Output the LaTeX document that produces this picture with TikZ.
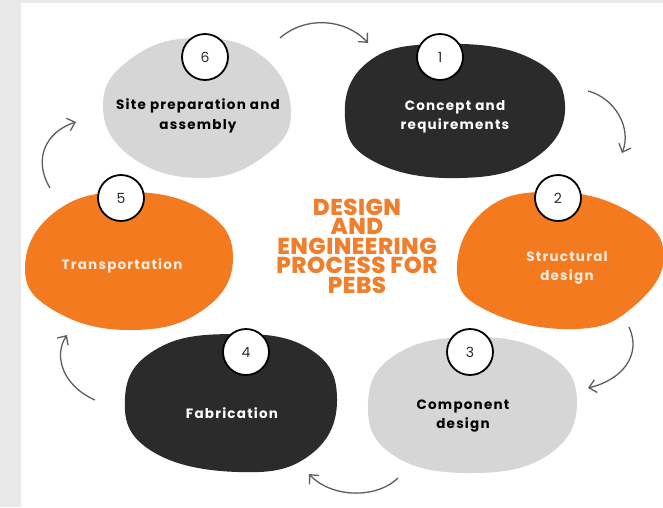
\documentclass[tikz,border=0pt]{standalone}
\usepackage{fontspec}
\setmainfont{Poppins}
\newfontfamily\labelfont{Poppins}[UprightFont={* Bold}, LetterSpace=9]
\newfontfamily\titlefont{Poppins}[UprightFont={* ExtraBold}, LetterSpace=2]
\usetikzlibrary{arrows.meta}
\definecolor{framegray}{HTML}{E9E9E9}
\definecolor{lightblob}{HTML}{D6D6D6}
\definecolor{darkblob}{HTML}{2B2B2B}
\definecolor{orangeblob}{HTML}{F47A20}
\definecolor{titleorange}{HTML}{EF7F2C}
\definecolor{cream}{HTML}{FBEBDC}
\definecolor{arrowgray}{HTML}{5E5E5E}
\tikzset{
  blob/.style={smooth cycle, tension=0.75},
  blobtext/.style={align=center, font=\fontsize{13.5}{19.5}\labelfont, inner sep=0pt},
  titleline/.style={text=titleorange, inner sep=0pt, anchor=base, font=\fontsize{23}{23}\titlefont},
  numcirc/.style={circle, draw=black, line width=1.8pt, fill=white, minimum size=46pt, inner sep=0pt, text=darkblob, font=\fontsize{14}{14}\selectfont},
  cyc/.style={draw=arrowgray, line width=1.3pt, -{Straight Barb[length=7pt,width=13pt]}},
}
\begin{document}
\begin{tikzpicture}[x=1pt,y=-1pt]
\useasboundingbox (0,0) rectangle (663,507);
\fill[framegray] (0,0) rectangle (663,507);
\fill[white] (21,3) rectangle (663,507);

% blobs
\fill[lightblob] plot[blob] coordinates {(291,112) (263,157) (200,178) (130,156) (103,104) (132,58) (195,38) (262,56)};
\fill[darkblob] plot[blob] coordinates {(565,105) (535,158) (460,178) (375,162) (345,118) (368,62) (440,44) (530,58)};
\fill[orangeblob] plot[blob] coordinates {(664,255) (633,307) (575,329) (490,312) (457,272) (485,210) (555,192) (630,212)};
\fill[lightblob] plot[blob] coordinates {(577,402) (548,455) (470,473) (393,455) (368,405) (395,355) (472,337) (548,354)};
\fill[darkblob] plot[blob] coordinates {(337,398) (310,455) (238,472) (150,450) (125,398) (155,350) (230,334) (308,348)};
\fill[orangeblob] plot[blob] coordinates {(233,258) (203,310) (131,330) (55,311) (25,268) (55,212) (125,192) (203,210)};

% labels
\node[blobtext, text=black] (t6) at (198,116) {Site preparation and\\assembly};
\node[blobtext, text=white] (t1) at (455,117) {Concept and\\requirements};
\node[blobtext, text=cream] (t2) at (567,268) {Structural\\design};
\node[blobtext, text=black] (t3) at (463,416) {Component\\design};
\node[blobtext, text=white] (t4) at (232,413) {Fabrication};
\node[blobtext, text=cream] (t5) at (122,266) {Transportation};

% title
\node[titleline] (title1) at (357,215) {DESIGN};
\node[titleline] (title2) at (357,234.5) {AND};
\node[titleline] (title3) at (357,254) {ENGINEERING};
\node[titleline] (title4) at (357,273.5) {PROCESS FOR};
\node[titleline] (title5) at (357,293) {PEBS};

% number circles
\node[numcirc] (n6) at (205,57) {6};
\node[numcirc] (n1) at (440,57) {1};
\node[numcirc] (n2) at (558,198) {2};
\node[numcirc] (n3) at (470,352) {3};
\node[numcirc] (n4) at (246,352) {4};
\node[numcirc] (n5) at (121,198) {5};

% cycle arrows
\coordinate (a1s) at (280,38);  \coordinate (a1e) at (368,43);
\coordinate (a2s) at (588,91);  \coordinate (a2e) at (622,153);
\coordinate (a3s) at (629,327); \coordinate (a3e) at (588,388);
\coordinate (a4s) at (398,478); \coordinate (a4e) at (309,474);
\coordinate (a5s) at (95,400);  \coordinate (a5e) at (67,335);
\coordinate (a6s) at (50,188);  \coordinate (a6e) at (76,122);
\draw[cyc] (a1s) .. controls (305,16) and (345,18) .. (a1e);
\draw[cyc] (a2s) .. controls (615,98) and (632,128) .. (a2e);
\draw[cyc] (a3s) .. controls (642,355) and (622,380) .. (a3e);
\draw[cyc] (a4s) .. controls (375,500) and (330,497) .. (a4e);
\draw[cyc] (a5s) .. controls (63,386) and (53,356) .. (a5e);
\draw[cyc] (a6s) .. controls (33,160) and (45,132) .. (a6e);
\end{tikzpicture}
\end{document}
